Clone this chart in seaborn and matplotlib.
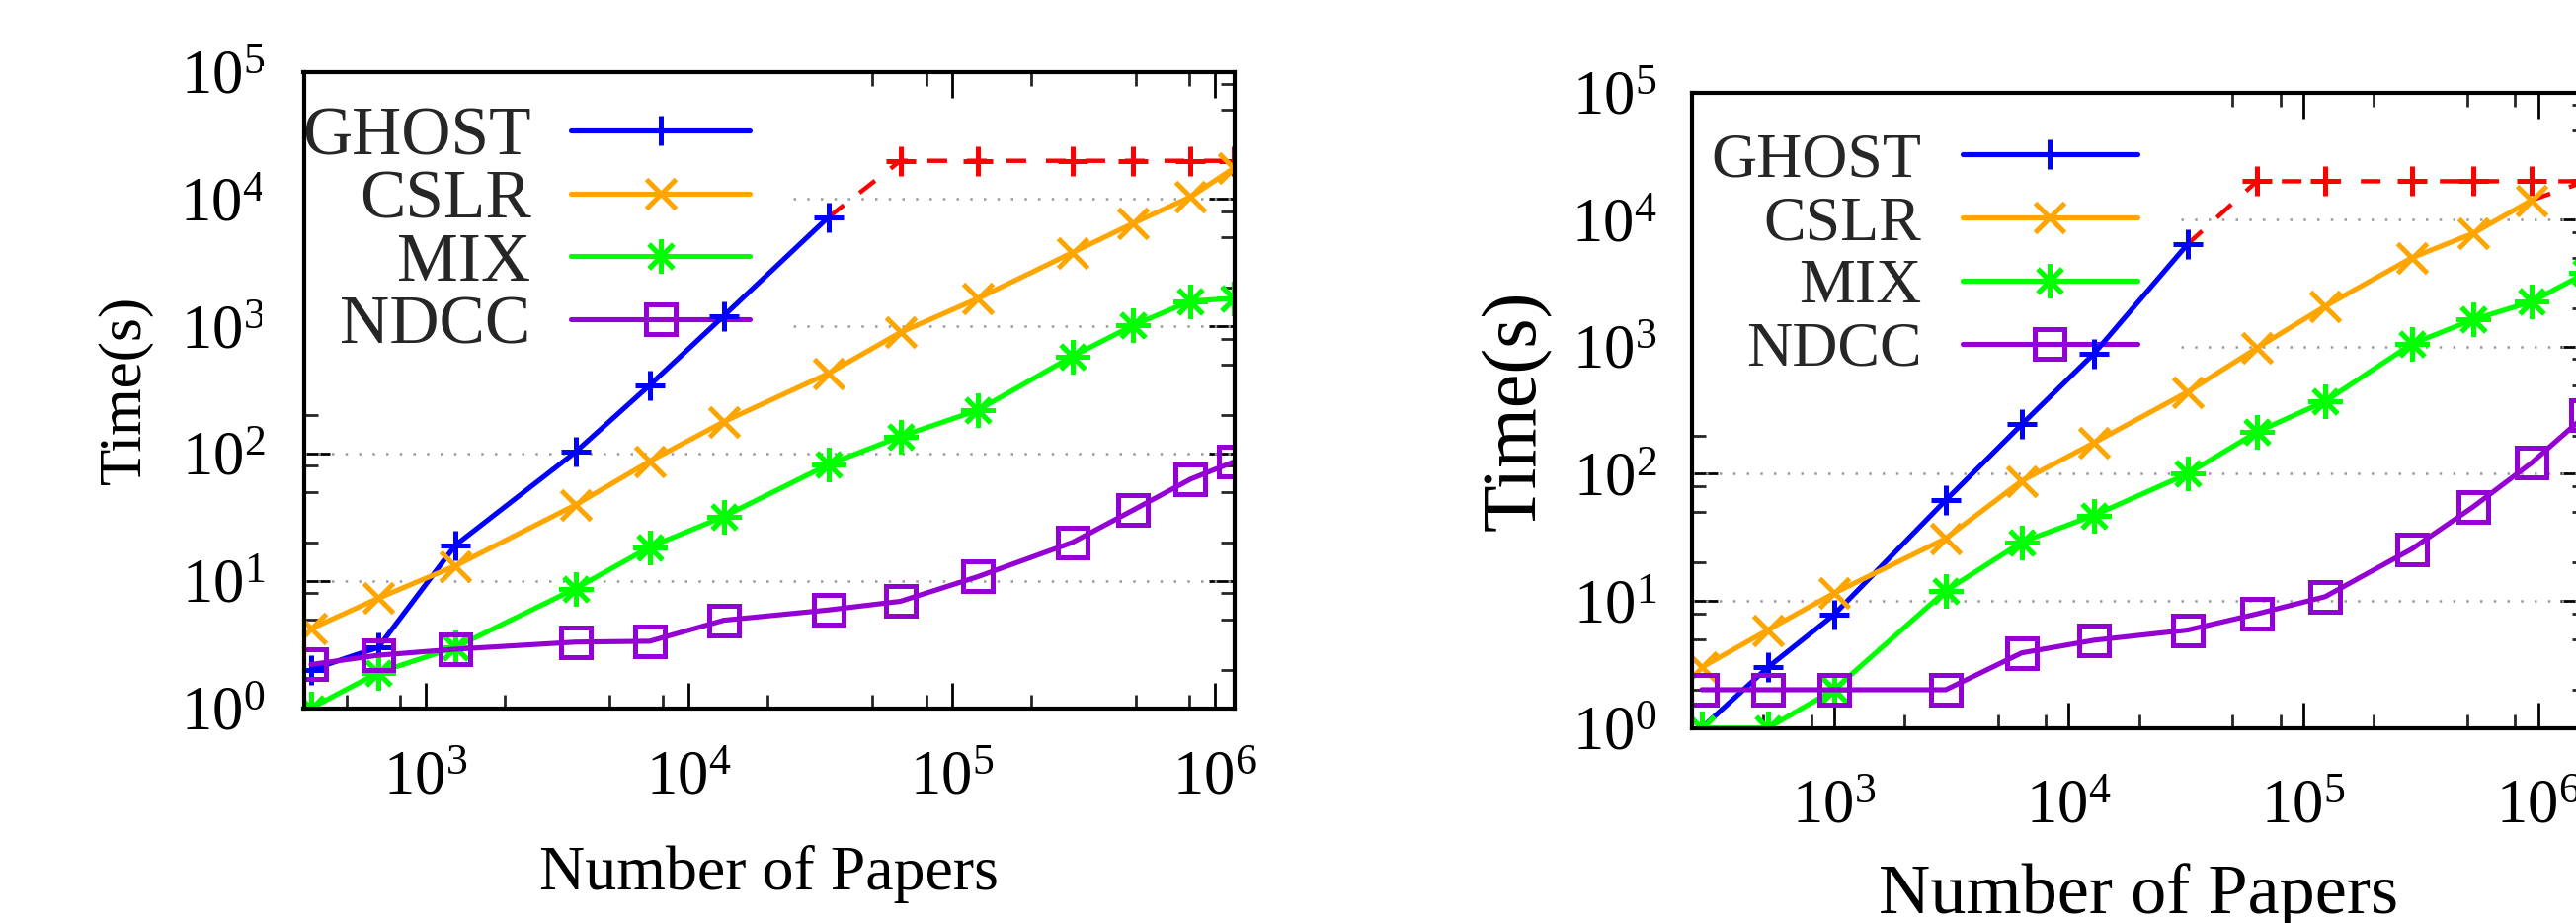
import matplotlib
matplotlib.use("Agg")
import matplotlib.pyplot as plt
import matplotlib.transforms as mtransforms
import seaborn as sns
from matplotlib.ticker import LogLocator, NullFormatter, LogFormatterSciNotation

# ---------------- data ----------------
methods = ["GHOST", "CSLR", "MIX", "NDCC"]
colors = ["#0000ff", "#ffa500", "#00ff00", "#9400d3"]
timeout_color = "#ff0000"
timeout_value = 2e4

papers_a = [367, 661, 1296, 3715, 7110, 13600, 33960, 63800, 126000, 287000, 490000, 809000, 1180000]
ghost_a = [2.0, 3.0, 19, 103, 345, 1210, 7200]
cslr_a = [4.2, 7.3, 13.1, 39.5, 87, 178, 426, 895, 1660, 3790, 6460, 10400, 17500]
mix_a = [1.0, 1.9, 3.0, 8.7, 18.4, 32, 82, 136, 220, 580, 1020, 1580, 1660]
ndcc_a = [2.2, 2.6, 2.9, 3.3, 3.35, 4.9, 5.9, 6.9, 10.8, 20, 36, 63, 86]

papers_b = [273, 522, 1000, 2993, 6310, 12800, 32100, 63400, 124000, 290000, 530000, 940000, 1600000]
ghost_b = [1.0, 3.0, 7.8, 62, 245, 880, 6400]
cslr_b = [3.0, 5.9, 11.5, 31, 88, 175, 440, 975, 2080, 5000, 7800, 14200]
mix_b = [1.0, 1.0, 2.0, 12, 29, 47, 100, 213, 372, 1050, 1635, 2256, 3800]
ndcc_b = [2.0, 2.0, 2.0, 2.0, 3.9, 4.9, 5.9, 7.9, 10.8, 25.6, 55, 122, 290]

xlim_a = (344, 1.19e6)
xlim_b = (248, 1.6e6)
ylim = (1, 1e5)
xlabel = "Number of Papers"
ylabel = "Time(s)"

# ---------------- style ----------------
sns.set_theme(style="white")
plt.rcParams["font.family"] = ["Liberation Serif", "DejaVu Serif"]
plt.rcParams["mathtext.fontset"] = "custom"
plt.rcParams["mathtext.rm"] = "Liberation Serif"
plt.rcParams["mathtext.it"] = "Liberation Serif:italic"
plt.rcParams["mathtext.bf"] = "Liberation Serif:bold"

markers = ["+", "x", (8, 2, 0), "s"]
msizes = [21, 21, 25, 21]
MEW = 3.6
LW = 3.7

fig = plt.figure(figsize=(26.08, 9.34), dpi=100, facecolor="white")
W, H = 2608.0, 934.0


def add_axes_px(left, right, top, bottom):
    return fig.add_axes([left / W, (H - bottom) / H, (right - left) / W, (bottom - top) / H])


def draw_panel(ax, papers, series, xlim, tick_fs, ytick_pad, xtick_pad,
               xlabel_fs, ylabel_fs, xlabel_y, ylabel_x, leg_fs, leg_anchor,
               leg_handlelength, leg_pad, leg_spacing):
    handles = []
    for name, vals, col, mk, ms in zip(methods, series, colors, markers, msizes):
        n = len(vals)
        sns.lineplot(x=papers[:n], y=vals, ax=ax, color=col, lw=LW, marker=mk,
                     markersize=ms, markeredgewidth=MEW, markeredgecolor=col,
                     markerfacecolor="none", errorbar=None, zorder=3)
        handles.append(ax.lines[-1])
        if n < len(papers):
            # timeout continuation (red dashed)
            tx = papers[n - 1:]
            ty = [vals[-1]] + [timeout_value] * (len(papers) - n)
            sns.lineplot(x=tx, y=ty, ax=ax, color=timeout_color, lw=3.2,
                         linestyle=(0, (4.5, 4.5)), marker="+", markersize=21,
                         markeredgewidth=MEW, markeredgecolor=timeout_color,
                         markevery=list(range(1, len(tx))), errorbar=None, zorder=2.8)

    ax.set_xscale("log")
    ax.set_yscale("log")
    ax.set_xlim(*xlim)
    ax.set_ylim(*ylim)

    for axis in (ax.xaxis, ax.yaxis):
        axis.set_major_locator(LogLocator(base=10, numticks=20))
        axis.set_minor_locator(LogLocator(base=10, subs=(2, 5, 8), numticks=20))
        axis.set_major_formatter(LogFormatterSciNotation())
        axis.set_minor_formatter(NullFormatter())

    ax.tick_params(which="major", direction="in", length=19, width=2.0,
                   top=True, right=True, bottom=True, left=True,
                   labelsize=tick_fs, colors="black")
    ax.tick_params(which="minor", direction="in", length=10, width=2.0,
                   top=True, right=True, bottom=True, left=True)
    ax.tick_params(axis="y", which="major", pad=ytick_pad)
    ax.tick_params(axis="x", which="major", pad=xtick_pad)
    shift = mtransforms.ScaledTranslation(0, -5 / 72, fig.dpi_scale_trans)
    for t in ax.yaxis.get_major_ticks():
        t.label1.set_va("center")
        t.label1.set_transform(t.label1.get_transform() + shift)

    for sp in ax.spines.values():
        sp.set_visible(True)
        sp.set_linewidth(3.0)
        sp.set_color("black")
        sp.set_zorder(4)

    # dotted horizontal grid at the major y ticks
    for v in ax.yaxis.get_majorticklocs():
        if ylim[0] < v < ylim[1]:
            ax.axhline(v, color="#9a9a9a", lw=1.8, linestyle=(0, (1, 4.5)), zorder=0.8)

    ax.set_xlabel(xlabel, fontsize=xlabel_fs, color="black")
    ax.xaxis.label.set_va("baseline")
    ax.xaxis.set_label_coords(0.5, xlabel_y)
    ax.set_ylabel(ylabel, fontsize=ylabel_fs, color="black")
    ax.yaxis.label.set_va("center")
    ax.yaxis.set_label_coords(ylabel_x, 0.5)

    leg = ax.legend(handles, methods, loc="upper right", bbox_to_anchor=leg_anchor,
                    borderaxespad=0, markerfirst=False, handlelength=leg_handlelength,
                    handletextpad=leg_pad, labelspacing=leg_spacing, borderpad=leg_pad,
                    frameon=True, fancybox=False, edgecolor="none",
                    facecolor="white", framealpha=1, numpoints=1, fontsize=leg_fs)
    leg.set_zorder(1.2)
    ax.set_facecolor("white")


ax1 = add_axes_px(307.5, 1250, 72.7, 716.5)
draw_panel(ax1, papers_a, [ghost_a, cslr_a, mix_a, ndcc_a], xlim_a,
           tick_fs=45, ytick_pad=28, xtick_pad=31, xlabel_fs=46, ylabel_fs=44,
           xlabel_y=(716.5 - 900) / 643.8, ylabel_x=(127 - 307.5) / 942.5,
           leg_fs=50, leg_anchor=((800 - 307.5) / 942.5, 1.009),
           leg_handlelength=2.6, leg_pad=0.59, leg_spacing=0.0)

ax2 = add_axes_px(1713, 2618, 93.5, 736.7)
draw_panel(ax2, papers_b, [ghost_b, cslr_b, mix_b, ndcc_b], xlim_b,
           tick_fs=45, ytick_pad=26, xtick_pad=37, xlabel_fs=52, ylabel_fs=56,
           xlabel_y=(736.7 - 924) / 643.2, ylabel_x=(1535.5 - 1713) / 905,
           leg_fs=46, leg_anchor=((2205 - 1713) / 905, 1.001),
           leg_handlelength=2.78, leg_pad=0.64, leg_spacing=0.08)

fig.savefig("out.png", dpi=100, facecolor="white")
